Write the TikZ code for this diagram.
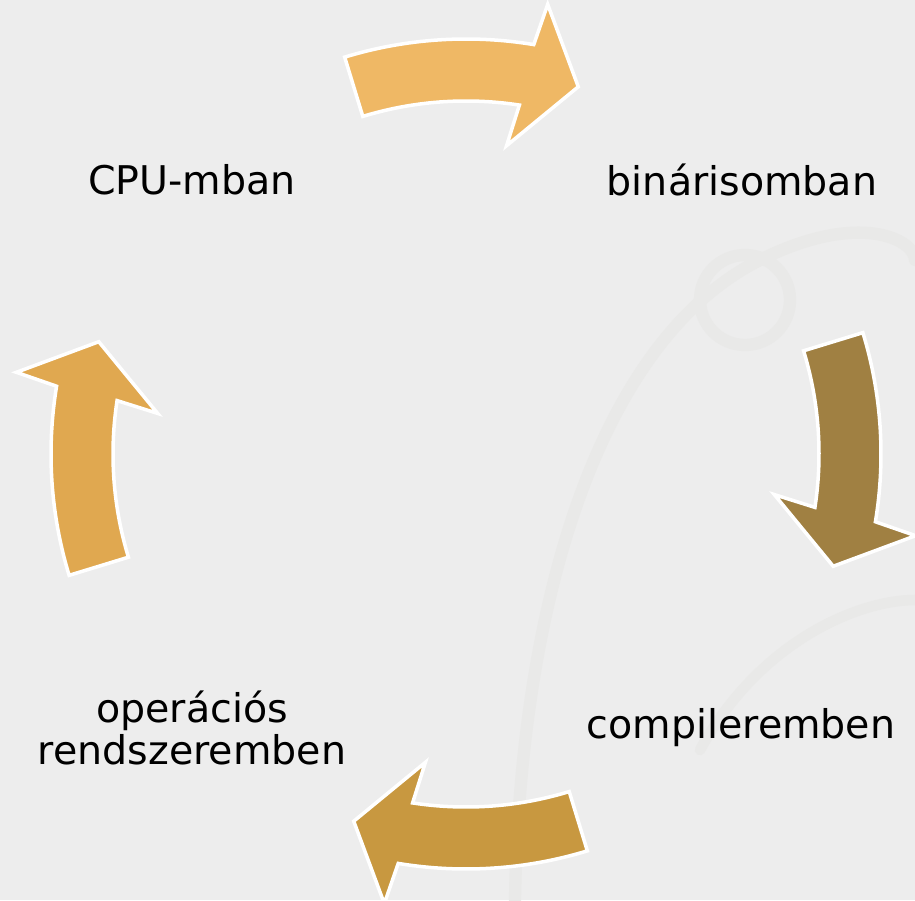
\documentclass[tikz,border=0pt]{standalone}
\usepackage{fontspec}
\setmainfont{DejaVu Sans}
\usepackage{xcolor}
\usetikzlibrary{positioning,calc}

\definecolor{bgcol}{RGB}{237,237,237}
\definecolor{swirlcol}{RGB}{233,233,232}
\definecolor{arrowA}{RGB}{239,184,101}
\definecolor{arrowB}{RGB}{160,128,66}
\definecolor{arrowC}{RGB}{200,152,64}
\definecolor{arrowD}{RGB}{224,168,80}

\tikzset{
    stage/.style={align=center, font=\fontsize{22.5}{24}\selectfont, text=black, inner sep=0pt},
    blockarrow/.style={draw=white, line width=2pt, line join=miter}
}

% one curved block arrow of the cycle, turned by #1 round the centre
\newcommand{\cyclearrow}[2]{%
    \begin{scope}[shift={(ctr)}, rotate=#1]
        \filldraw [blockarrow, fill=#2] (107:415) arc[start angle=107, end angle=80.6, radius=415]
            -- (79.7:457) -- (73:384) -- (82.5:311) -- (81.3:353)
            arc[start angle=81.3, end angle=107, radius=353] -- cycle;
    \end{scope}}

\begin{document}
\begin{tikzpicture}[x=0.2mm, y=0.2mm]
    \fill [bgcol] (0,0) rectangle (915,900); % Background
    \useasboundingbox (0,0) rectangle (915,900);

    % Faint swirls
    \draw [swirlcol, line width=7pt, line cap=round] (515,0) .. controls (520,300) and (600,560) .. (760,640) .. controls (860,690) and (915,660) .. (915,640);
    \draw [swirlcol, line width=7pt] (745,600) circle (45);
    \draw [swirlcol, line width=6pt, line cap=round] (700,150) .. controls (760,260) and (860,300) .. (915,300);

    \coordinate (ctr) at (466,446);

    % Arrows
    \cyclearrow{0}{arrowA}
    \cyclearrow{-90}{arrowB}
    \cyclearrow{-180}{arrowC}
    \cyclearrow{90}{arrowD}

    % Stages
    \node [stage] (cpu) at (192,720) {CPU-mban};
    \node [stage] (bin) at (742,720) {binárisomban};
    \node [stage] (comp) at (741,172) {compileremben};
    \node [stage] (os) at (192,172) {operációs\\rendszeremben};
\end{tikzpicture}
\end{document}
